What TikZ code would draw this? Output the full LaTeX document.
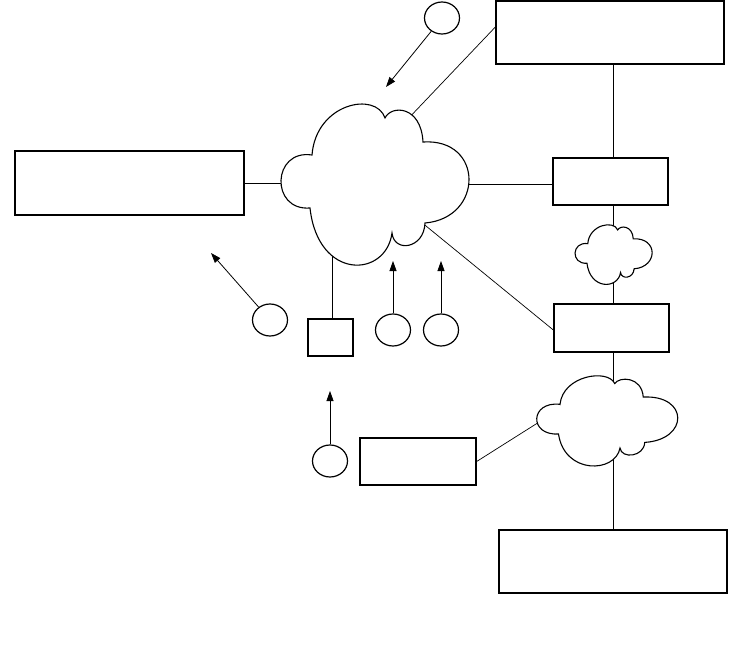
\documentclass[tikz,border=0pt]{standalone}
\usetikzlibrary{arrows.meta,shapes.geometric}
\tikzset{
  cloudshape/.pic={
    \draw[line width=1.1pt, fill=white, line join=miter]
      (-64,-28) .. controls (-60,-80) and (0,-92) .. (9,-65)
      .. controls (15,-78) and (45,-78) .. (47,-41)
      .. controls (108,-45) and (108,35) .. (49,40)
      .. controls (48,66) and (18,70) .. (16,50)
      .. controls (10,95) and (-58,98) .. (-66,25)
      .. controls (-106,28) and (-104,-34) .. cycle;
  }
}
\begin{document}
\begin{tikzpicture}[x=1pt,y=-1pt,
  box/.style={draw, line width=1.3pt, inner sep=0pt, fill=white},
  conn/.style={draw, line width=0.7pt},
  circ/.style={ellipse, draw, line width=1.2pt, minimum width=35pt, minimum height=32pt, inner sep=0pt},
  arr/.style={line width=0.8pt, -{Triangle[length=10pt,width=7pt]}}]
\useasboundingbox (0,0) rectangle (729,672);

% boxes
\node[box, minimum width=228pt, minimum height=63pt] (trbox) at (610,32.5) {};
\node[box, minimum width=229pt, minimum height=64pt] (lbox) at (129.5,183) {};
\node[box, minimum width=115pt, minimum height=47pt] (box1) at (610.5,181.5) {};
\node[box, minimum width=115pt, minimum height=48pt] (box2) at (611.5,328) {};
\node[box, minimum width=45pt, minimum height=37pt] (sbox) at (330.5,337.5) {};
\node[box, minimum width=116pt, minimum height=47pt] (mbox) at (418,461.5) {};
\node[box, line width=1.8pt, minimum width=228pt, minimum height=63pt] (brbox) at (613,561.5) {};

% circles
\node[circ] (c1) at (442,18) {};
\node[circ] (c2) at (270,320) {};
\node[circ] (c3) at (393,330) {};
\node[circ] (c4) at (441,330) {};
\node[circ] (c5) at (330,461) {};

% coordinates
\coordinate (vx) at (613,0);
\coordinate (inL) at (300,183);
\coordinate (inR) at (455,184);
\coordinate (inTR) at (405,122);
\coordinate (inBR) at (415,217);
\coordinate (inB) at (332,240);
\coordinate (inM) at (555,412);
\coordinate (t1) at (386,87);
\coordinate (t2) at (211,253);
\coordinate (t3) at (393,261);
\coordinate (t4) at (441,261);
\coordinate (t5) at (330,391);

% connectors (drawn before clouds)
\draw[conn] (lbox.east) -- (inL);
\draw[conn] (box1.west |- inR) -- (inR);
\draw[conn] (trbox.west |- 0,27) -- (inTR);
\draw[conn] (box2.west |- 0,330) -- (inBR);
\draw[conn] (sbox.north -| inB) -- (inB);
\draw[conn] (mbox.east) -- (inM);
\draw[conn] (trbox.south -| vx) -- (box1.north -| vx);
\draw[conn] (box1.south -| vx) -- (box2.north -| vx);
\draw[conn] (box2.south -| vx) -- (brbox.north -| vx);

% clouds
\pic (bigcloud) at (376,183) {cloudshape};
\pic[xscale=0.75, yscale=0.56] (medcloud) at (608,420) {cloudshape};
\pic[xscale=0.41, yscale=0.37] (smallcloud) at (614,254) {cloudshape};

% arrows
\draw[arr] (c1) -- (t1);
\draw[arr] (c2) -- (t2);
\draw[arr] (c3) -- (t3);
\draw[arr] (c4) -- (t4);
\draw[arr] (c5) -- (t5);
\end{tikzpicture}
\end{document}
